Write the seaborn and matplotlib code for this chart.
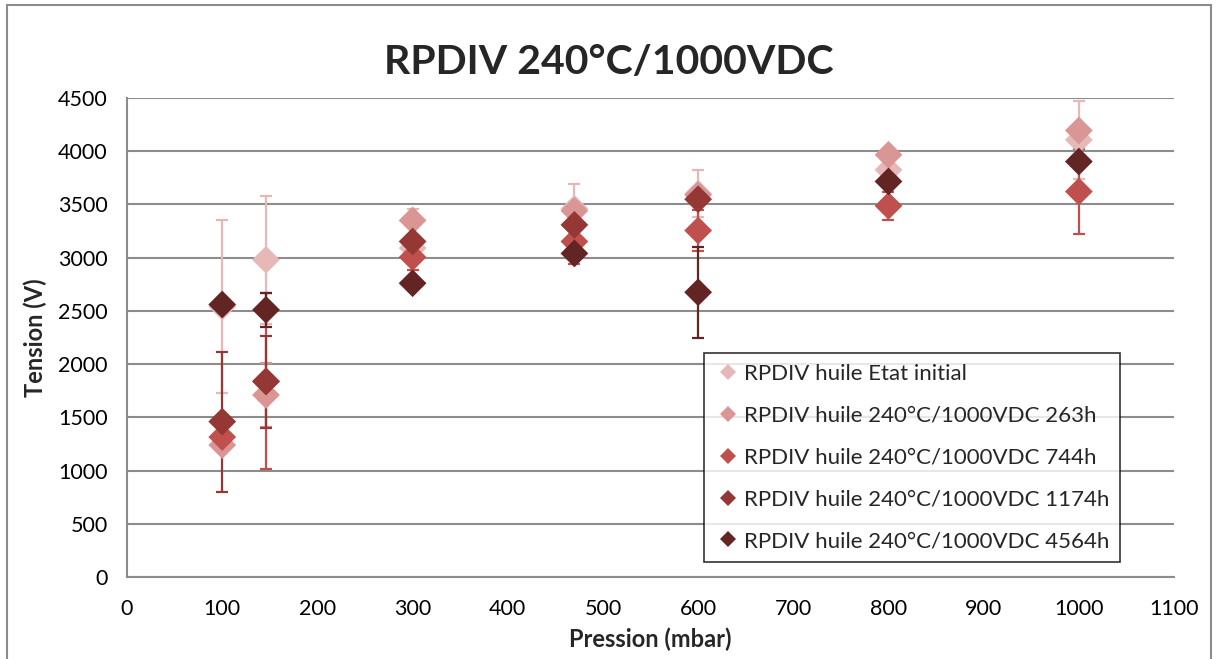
import numpy as np
import pandas as pd
import matplotlib
matplotlib.use("Agg")
import matplotlib.pyplot as plt
import seaborn as sns
from matplotlib.patches import Rectangle

# Pressure points (mbar)
pressions = [100, 146, 300, 470, 600, 800, 1000]

series = [
    "RPDIV huile Etat initial",
    "RPDIV huile 240°C/1000VDC 263h",
    "RPDIV huile 240°C/1000VDC 744h",
    "RPDIV huile 240°C/1000VDC 1174h",
    "RPDIV huile 240°C/1000VDC 4564h",
]
colors = ["#E6B9B8", "#D99694", "#C0504D", "#953735", "#632523"]

# Mean RPDIV (V) per series
etat_initial = [2540, 2980, 3090, 3460, 3600, 3825, 4107]
h263 = [1240, 1710, 3350, 3440, 3590, 3966, 4195]
h744 = [1315, 1840, 3005, 3152, 3255, 3487, 3621]
h1174 = [1460, 1836, 3152, 3308, 3549, np.nan, np.nan]
h4564 = [2560, 2510, 2760, 3040, 2675, 3716, 3903]

# Error (V) per series
err_etat_initial = [815, 604, 370, 235, 220, 0, 367]
err_h263 = [0, 300, 0, 0, 0, 0, 0]
err_h744 = [0, 826, 120, 210, 197, 130, 400]
err_h1174 = [658, 432, 0, 0, 0, 0, 0]
err_h4564 = [0, 157, 0, 0, 425, 0, 0]

means = [etat_initial, h263, h744, h1174, h4564]
errs = [err_etat_initial, err_h263, err_h744, err_h1174, err_h4564]

df = pd.DataFrame({
    "Pression": pressions * len(series),
    "Tension": sum(means, []),
    "Serie": [s for s in series for _ in pressions],
})

sns.set_style("white")
plt.rcParams["font.family"] = ["Lato", "DejaVu Sans"]

fig = plt.figure(figsize=(12.17, 6.59), dpi=100)
ax = fig.add_axes([0.1044, 0.1244, 0.8603, 0.7269])

# error bars first, then markers
for name, m, e, c in zip(series, means, errs, colors):
    e = np.array(e, dtype=float)
    e[e == 0] = np.nan
    ax.errorbar(pressions, m, yerr=e, fmt="none", ecolor=c, elinewidth=1.6,
                capsize=4.5, capthick=1.6, zorder=2)

sns.scatterplot(data=df, x="Pression", y="Tension", hue="Serie",
                hue_order=series, palette=colors, marker="D", s=200,
                linewidth=0, ax=ax, zorder=3, legend=False)

# legend
handles = [plt.Line2D([], [], marker="D", linestyle="none", markersize=8.5,
                      markerfacecolor=c, markeredgewidth=0) for c in colors]
leg = ax.legend(handles, series, loc="lower left", bbox_to_anchor=(0.551, 0.031),
                fontsize=16, frameon=True, fancybox=False, handletextpad=0.1,
                labelspacing=0.98, borderpad=0.5, handlelength=1.2,
                borderaxespad=0)
leg.get_frame().set_edgecolor("black")
leg.get_frame().set_linewidth(1.2)
leg.set_zorder(5)

ax.set_xlim(0, 1100)
ax.set_ylim(0, 4500)
ax.set_xticks(range(0, 1101, 100))
ax.set_yticks(range(0, 4501, 500))
ax.yaxis.grid(True, color="#8c8c8c", linewidth=1.5)
ax.set_axisbelow(True)
for side in ["top", "right"]:
    ax.spines[side].set_visible(False)
for side in ["left", "bottom"]:
    ax.spines[side].set_color("#8c8c8c")
    ax.spines[side].set_linewidth(1.5)
ax.tick_params(axis="both", direction="out", length=7, width=1.5,
               color="#8c8c8c", labelsize=15.5, labelcolor="black")
ax.tick_params(axis="x", pad=9)
ax.tick_params(axis="y", pad=7)

ax.set_xlabel("Pression (mbar)", fontsize=17, fontweight="bold", labelpad=6)
ax.set_ylabel("Tension (V)", fontsize=17, fontweight="bold", labelpad=8)
fig.text(0.5, 0.905, "RPDIV 240°C/1000VDC", ha="center", va="center",
         fontsize=29.5, fontweight="bold")

fig.patches.append(Rectangle((0.006, -0.01), 0.989, 1.003, transform=fig.transFigure,
                             fill=False, edgecolor="#8c8c8c", linewidth=1.5))

fig.savefig("out.png", dpi=100)
